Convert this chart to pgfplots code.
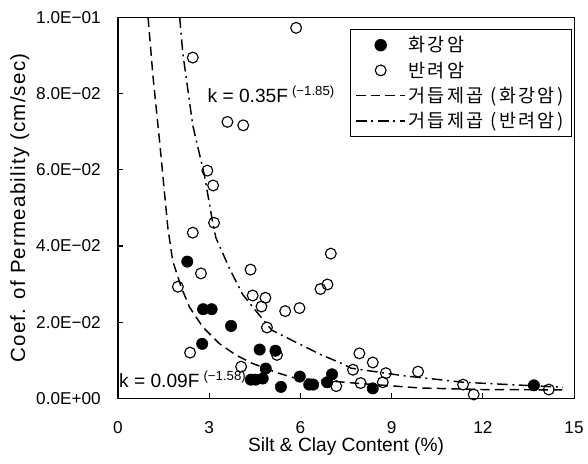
\documentclass[border=0pt]{standalone}
\usepackage{fontspec}
\setmainfont{Liberation Sans}
\newfontfamily\kr[LetterSpace=13]{Noto Sans CJK KR}
\usepackage{pgfplots}
\pgfplotsset{compat=1.18}

% granite (filled)
\pgfplotstableread{
x y
2.28 0.0359
2.80 0.0234
3.08 0.0234
3.72 0.0190
2.77 0.0143
4.66 0.0128
5.18 0.0125
4.86 0.0078
4.37 0.0049
4.53 0.0049
4.76 0.0052
5.36 0.0030
5.98 0.0057
6.29 0.0036
6.42 0.0036
6.88 0.0042
7.04 0.0063
8.38 0.0026
13.68 0.0034
}\granite

% gabbro (open)
\pgfplotstableread{
x y
5.86 0.0973
2.46 0.0895
3.60 0.0726
4.12 0.0717
2.94 0.0598
3.13 0.0559
3.16 0.0461
2.46 0.0435
4.36 0.0338
7.00 0.0380
2.73 0.0328
1.97 0.0293
4.43 0.0270
4.85 0.0264
4.72 0.0241
5.50 0.0229
5.97 0.0237
6.66 0.0287
6.89 0.0299
4.90 0.0186
2.37 0.0120
4.05 0.0083
5.23 0.0114
7.18 0.0032
7.94 0.0118
8.38 0.0094
7.73 0.0075
8.81 0.0066
7.98 0.0040
8.71 0.0042
9.87 0.0070
11.35 0.0036
11.70 0.0010
14.17 0.0023
}\gabbro

% power fits
\pgfplotstableread{
x y
0.99 0.1000
1.15 0.0847
1.37 0.0674
1.64 0.0448
1.80 0.0361
2.08 0.0292
2.35 0.0240
2.78 0.0188
3.33 0.0144
3.87 0.0114
4.41 0.0092
5.28 0.0066
5.83 0.0053
7.78 0.0040
9.94 0.0027
12.02 0.0023
14.63 0.0022
}\fitgranite

\pgfplotstableread{
x y
2.03 0.1000
2.13 0.0908
2.46 0.0717
2.84 0.0587
3.11 0.0465
3.22 0.0422
3.65 0.0344
4.09 0.0274
4.52 0.0231
5.06 0.0179
5.83 0.0148
6.69 0.0114
7.35 0.0092
7.67 0.0079
9.41 0.0059
11.37 0.0042
14.63 0.0029
}\fitgabbro

\begin{document}
\begin{tikzpicture}
\begin{axis}[
    name=ax,
    scale only axis,
    width=345pt, height=288pt,
    xmin=0, xmax=15, ymin=0, ymax=0.1,
    xtick={0,3,6,9,12,15},
    ytick={0,0.02,0.04,0.06,0.08,0.1},
    yticklabels={0.0E+00,2.0E−02,4.0E−02,6.0E−02,8.0E−02,1.0E−01},
    tick align=inside, xtick pos=bottom, ytick pos=left,
    major tick length=4pt,
    axis line style={line width=0.8pt},
    tick style={line width=0.8pt, black},
    /pgf/number format/assume math mode=true,
    ticklabel style={font=\fontsize{13}{15}\selectfont},
    xticklabel style={anchor=center, yshift=-22pt},
    yticklabel style={anchor=east, xshift=-9.5pt},
    xlabel={Silt \& Clay Content (\%)},
    ylabel={Coef. of Permeability (cm/sec)},
    xlabel style={font=\fontsize{14.5}{17}\selectfont, at={(axis description cs:0.5,-0.126)}, anchor=center},
    ylabel style={font=\fontsize{15.5}{18}\selectfont\addfontfeature{LetterSpace=6},
        at={(axis description cs:-0.215,0.5)}, anchor=center},
    legend image code/.code={\draw[mark repeat=2,mark phase=2,#1] plot coordinates {(0pt,0pt)(18.5pt,0pt)(37pt,0pt)};},
    legend style={at={(rel axis cs:0.9957,0.969)}, anchor=north east,
        draw=black, line width=0.8pt, font=\kr\fontsize{14}{16}\selectfont,
        inner xsep=4pt, inner ysep=3pt, row sep=2pt, cells={anchor=west}},
]
\addplot[only marks, mark=*, mark size=4.3pt, mark options={fill=black, draw=black}] table {\granite};
\addplot[only marks, mark=o, mark size=4.1pt, mark options={line width=0.85pt, draw=black}] table {\gabbro};
\addplot[black, line width=1.1pt, dash pattern=on 7pt off 4pt] table {\fitgranite};
\addplot[black, line width=1.1pt, dash pattern=on 8pt off 3.5pt on 1.5pt off 3.5pt] table {\fitgabbro};
\legend{화강암, 반려암, 거듭제곱 (화강암), 거듭제곱 (반려암)}

\node[anchor=base west, inner sep=0, font=\fontsize{14.5}{16}\selectfont] at (axis cs:2.94,0.0778)
    {k = 0.35F\hspace{3pt}\raisebox{5pt}{\fontsize{10}{11}\selectfont(−1.85)}};
\node[anchor=base west, inner sep=0, font=\fontsize{14.5}{16}\selectfont] at (axis cs:0.03,0.0029)
    {k = 0.09F\hspace{3pt}\raisebox{5pt}{\fontsize{10}{11}\selectfont(−1.58)}};
\end{axis}
\path (ax.south west) ++(-89.25pt,-49.7pt) rectangle ++(441pt,351pt);
\end{tikzpicture}
\end{document}
